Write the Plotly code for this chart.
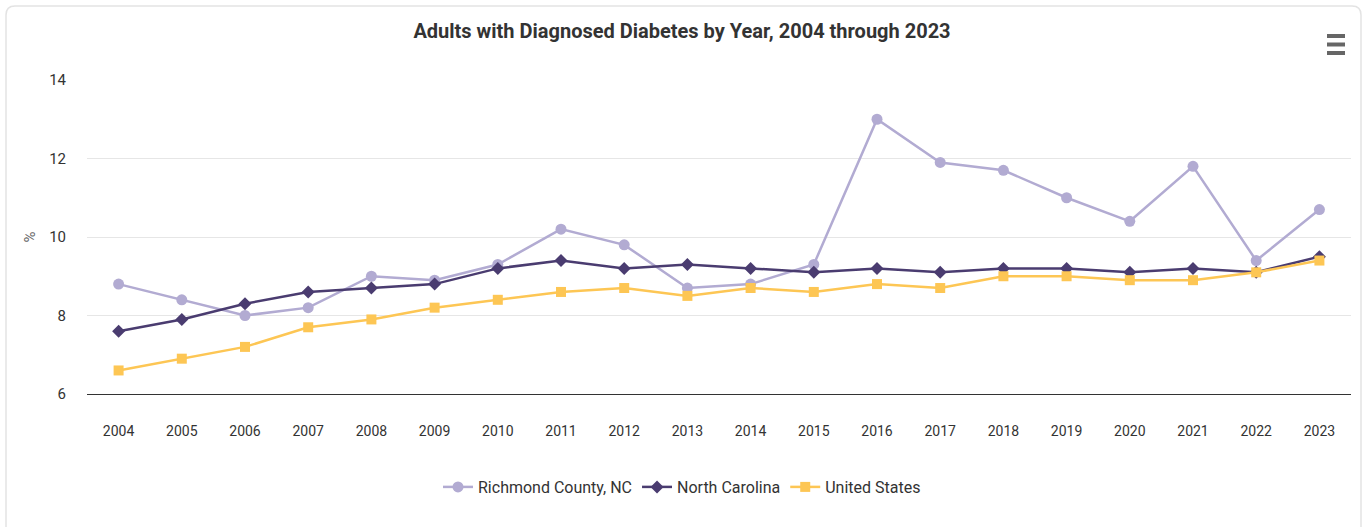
import plotly.graph_objects as go

years = [str(y) for y in range(2004, 2024)]
richmond = [8.8, 8.4, 8.0, 8.2, 9.0, 8.9, 9.3, 10.2, 9.8, 8.7, 8.8, 9.3, 13.0, 11.9, 11.7, 11.0, 10.4, 11.8, 9.4, 10.7]
north_carolina = [7.6, 7.9, 8.3, 8.6, 8.7, 8.8, 9.2, 9.4, 9.2, 9.3, 9.2, 9.1, 9.2, 9.1, 9.2, 9.2, 9.1, 9.2, 9.1, 9.5]
united_states = [6.6, 6.9, 7.2, 7.7, 7.9, 8.2, 8.4, 8.6, 8.7, 8.5, 8.7, 8.6, 8.8, 8.7, 9.0, 9.0, 8.9, 8.9, 9.1, 9.4]
y_ticks = [6, 8, 10, 12, 14]

FONT = "Roboto, 'Open Sans', sans-serif"
W, H = 1364, 527
ML, MR, MT, MB = 87, 13, 80, 133
PW, PH = W - ML - MR, H - MT - MB

def px(x):
    return (x - ML) / PW

def py(y):
    return (H - MB - y) / PH

fig = go.Figure()
series = [
    ("Richmond County, NC", richmond, "#b2abd2", "circle", 11),
    ("North Carolina", north_carolina, "#4a3c70", "diamond", 10),
    ("United States", united_states, "#fdc654", "square", 10),
]
for name, vals, col, sym, sz in series:
    fig.add_trace(go.Scatter(
        x=years, y=vals, name=name, mode="lines+markers",
        line=dict(color=col, width=2.5),
        marker=dict(color=col, symbol=sym, size=sz, line=dict(width=0)),
        hovertemplate="%{x}: %{y}%<extra>" + name + "</extra>",
    ))

# rounded border path
r = 9
x0, x1, y0, y1 = 6, 1361, 6, 560
path = (f"M {px(x0)},{py(y0 + r)} Q {px(x0)},{py(y0)} {px(x0 + r)},{py(y0)} "
        f"L {px(x1 - r)},{py(y0)} Q {px(x1)},{py(y0)} {px(x1)},{py(y0 + r)} "
        f"L {px(x1)},{py(y1)} M {px(x0)},{py(y1)} L {px(x0)},{py(y0 + r)}")
shapes = [dict(type="path", xref="paper", yref="paper", path=path,
               line=dict(color="#e3e3e3", width=1.5), layer="below")]
for yy in (36, 44.5, 53):
    shapes.append(dict(type="line", xref="paper", yref="paper",
                       x0=px(1327), x1=px(1345), y0=py(yy), y1=py(yy),
                       line=dict(color="#666666", width=4)))

fig.update_layout(
    width=W, height=H,
    margin=dict(l=ML, r=MR, t=MT, b=MB),
    paper_bgcolor="white", plot_bgcolor="white",
    font=dict(family=FONT, color="#333333", size=14),
    title=dict(text="<b>Adults with Diagnosed Diabetes by Year, 2004 through 2023</b>",
               x=0.5, xref="container", y=1 - 31 / H, yref="container",
               yanchor="middle", font=dict(size=20, color="#333333", family=FONT)),
    showlegend=True,
    legend=dict(orientation="h", x=0.5, xanchor="center", xref="container",
                y=1 - 487 / H, yref="container", yanchor="middle",
                font=dict(size=16, color="#333333"), itemwidth=30),
    shapes=shapes,
    xaxis=dict(type="category", range=[-0.5, len(years) - 0.5], showgrid=False,
               showline=True, linecolor="#333333", linewidth=1, ticks="",
               ticklabelstandoff=24, tickfont=dict(size=14, color="#333333"),
               fixedrange=True),
    yaxis=dict(range=[6, 14], tickvals=y_ticks, showgrid=True, gridcolor="#e6e6e6",
               gridwidth=1, zeroline=False, ticks="", ticklabelstandoff=20,
               tickfont=dict(size=15, color="#333333"),
               title=dict(text="%", font=dict(size=15, color="#666666"), standoff=9),
               fixedrange=True),
)
fig.write_html("out.html", config={"displayModeBar": False},
               post_script="document.body.style.margin='0';")
